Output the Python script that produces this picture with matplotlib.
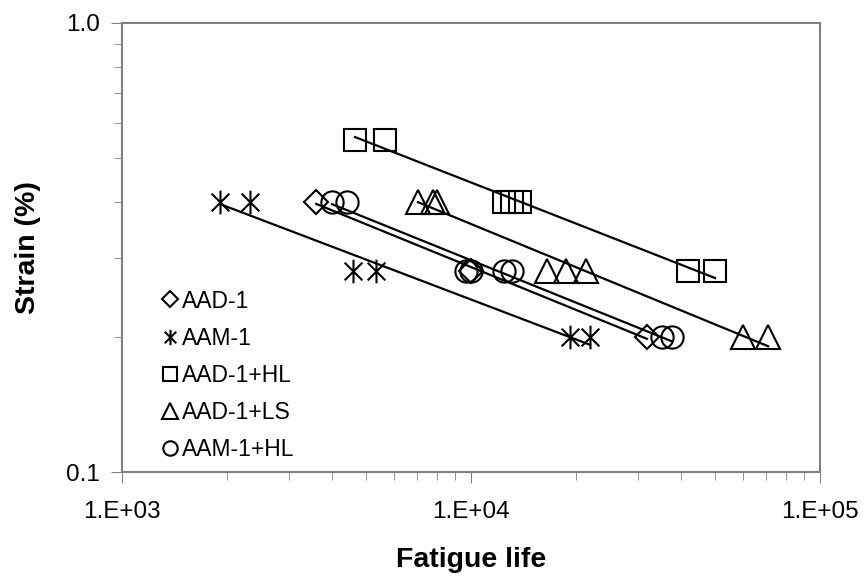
import numpy as np
import matplotlib
matplotlib.use("Agg")
from matplotlib import pyplot as plt
from matplotlib.path import Path

plt.rcParams['font.family'] = ['Liberation Sans', 'DejaVu Sans']

# fatigue data: (cycles, strain %)
aad1_n = [3600, 10000, 31900]
aad1_s = [0.4, 0.28, 0.2]

aam1_n = [1910, 2330, 4590, 5340, 19200, 21900]
aam1_s = [0.4, 0.4, 0.28, 0.28, 0.2, 0.2]

aad1hl_n = [4650, 5670, 12400, 13100, 13800, 41900, 50000]
aad1hl_s = [0.55, 0.55, 0.4, 0.4, 0.4, 0.28, 0.28]

aad1ls_n = [7050, 7780, 7990, 16500, 18700, 21400, 60200, 71000]
aad1ls_s = [0.4, 0.4, 0.4, 0.28, 0.28, 0.28, 0.2, 0.2]

aam1hl_n = [4000, 4410, 9680, 10000, 12400, 13100, 35300, 37700]
aam1hl_s = [0.4, 0.4, 0.28, 0.28, 0.28, 0.28, 0.2, 0.2]

labels = ["AAD-1", "AAM-1", "AAD-1+HL", "AAD-1+LS", "AAM-1+HL"]

# excel style asterisk: vertical bar plus an X
asterisk = Path([(0, -1), (0, 1), (-0.75, -0.75), (0.75, 0.75), (-0.75, 0.75), (0.75, -0.75)],
                [Path.MOVETO, Path.LINETO, Path.MOVETO, Path.LINETO, Path.MOVETO, Path.LINETO])

series = [
    (aad1_n, aad1_s, "D", 12),
    (aam1_n, aam1_s, asterisk, 17),
    (aad1hl_n, aad1hl_s, "s", 16),
    (aad1ls_n, aad1ls_s, "^", 17),
    (aam1hl_n, aam1hl_s, "o", 16),
]

fig = plt.figure(figsize=(8.66, 5.82), dpi=100)
ax = fig.add_axes([0.1409, 0.1890, 0.806, 0.7715])

handles = []
for (n, s, m, ms), lab in zip(series, labels):
    n = np.array(n, dtype=float)
    s = np.array(s, dtype=float)
    # power trendline over the data range
    b, a = np.polyfit(np.log10(n), np.log10(s), 1)
    xs = np.logspace(np.log10(n.min()), np.log10(n.max()), 50)
    ax.plot(xs, 10 ** (a + b * np.log10(xs)), color="black", lw=1.6, zorder=2)
    h, = ax.plot(n, s, linestyle="none", marker=m, markersize=ms,
                 markerfacecolor="none", markeredgecolor="black", markeredgewidth=1.5,
                 label=lab, zorder=3)
    handles.append(h)

ax.set_xscale("log")
ax.set_yscale("log")
ax.set_xlim(1e3, 1e5)
ax.set_ylim(0.1, 1.0)

ax.set_xticks([1e3, 1e4, 1e5])
ax.set_xticklabels(["1.E+03", "1.E+04", "1.E+05"])
ax.set_yticks([0.1, 1.0])
ax.set_yticklabels(["0.1", "1.0"])
ax.tick_params(axis="both", which="major", labelsize=17.5, length=8, color="#808080")
ax.tick_params(axis="x", which="major", pad=13)
ax.tick_params(axis="y", which="major", pad=8)
ax.tick_params(axis="both", which="minor", length=6, color="#808080")
ax.tick_params(axis="y", which="minor", labelleft=False)
ax.tick_params(axis="x", which="minor", labelbottom=False)

for sp in ax.spines.values():
    sp.set_color("#808080")
    sp.set_linewidth(1.5)

ax.set_xlabel("Fatigue life", fontsize=20.5, fontweight="bold", labelpad=17)
ax.set_ylabel("Strain (%)", fontsize=20.5, fontweight="bold", labelpad=18)

leg = ax.legend(handles=handles, loc="lower left", bbox_to_anchor=(0.034, -0.012),
                frameon=False, fontsize=16.5, markerscale=0.65, handlelength=0.7,
                handletextpad=0.2, labelspacing=0.62, borderaxespad=0.3)

fig.savefig("out.png", dpi=100)
